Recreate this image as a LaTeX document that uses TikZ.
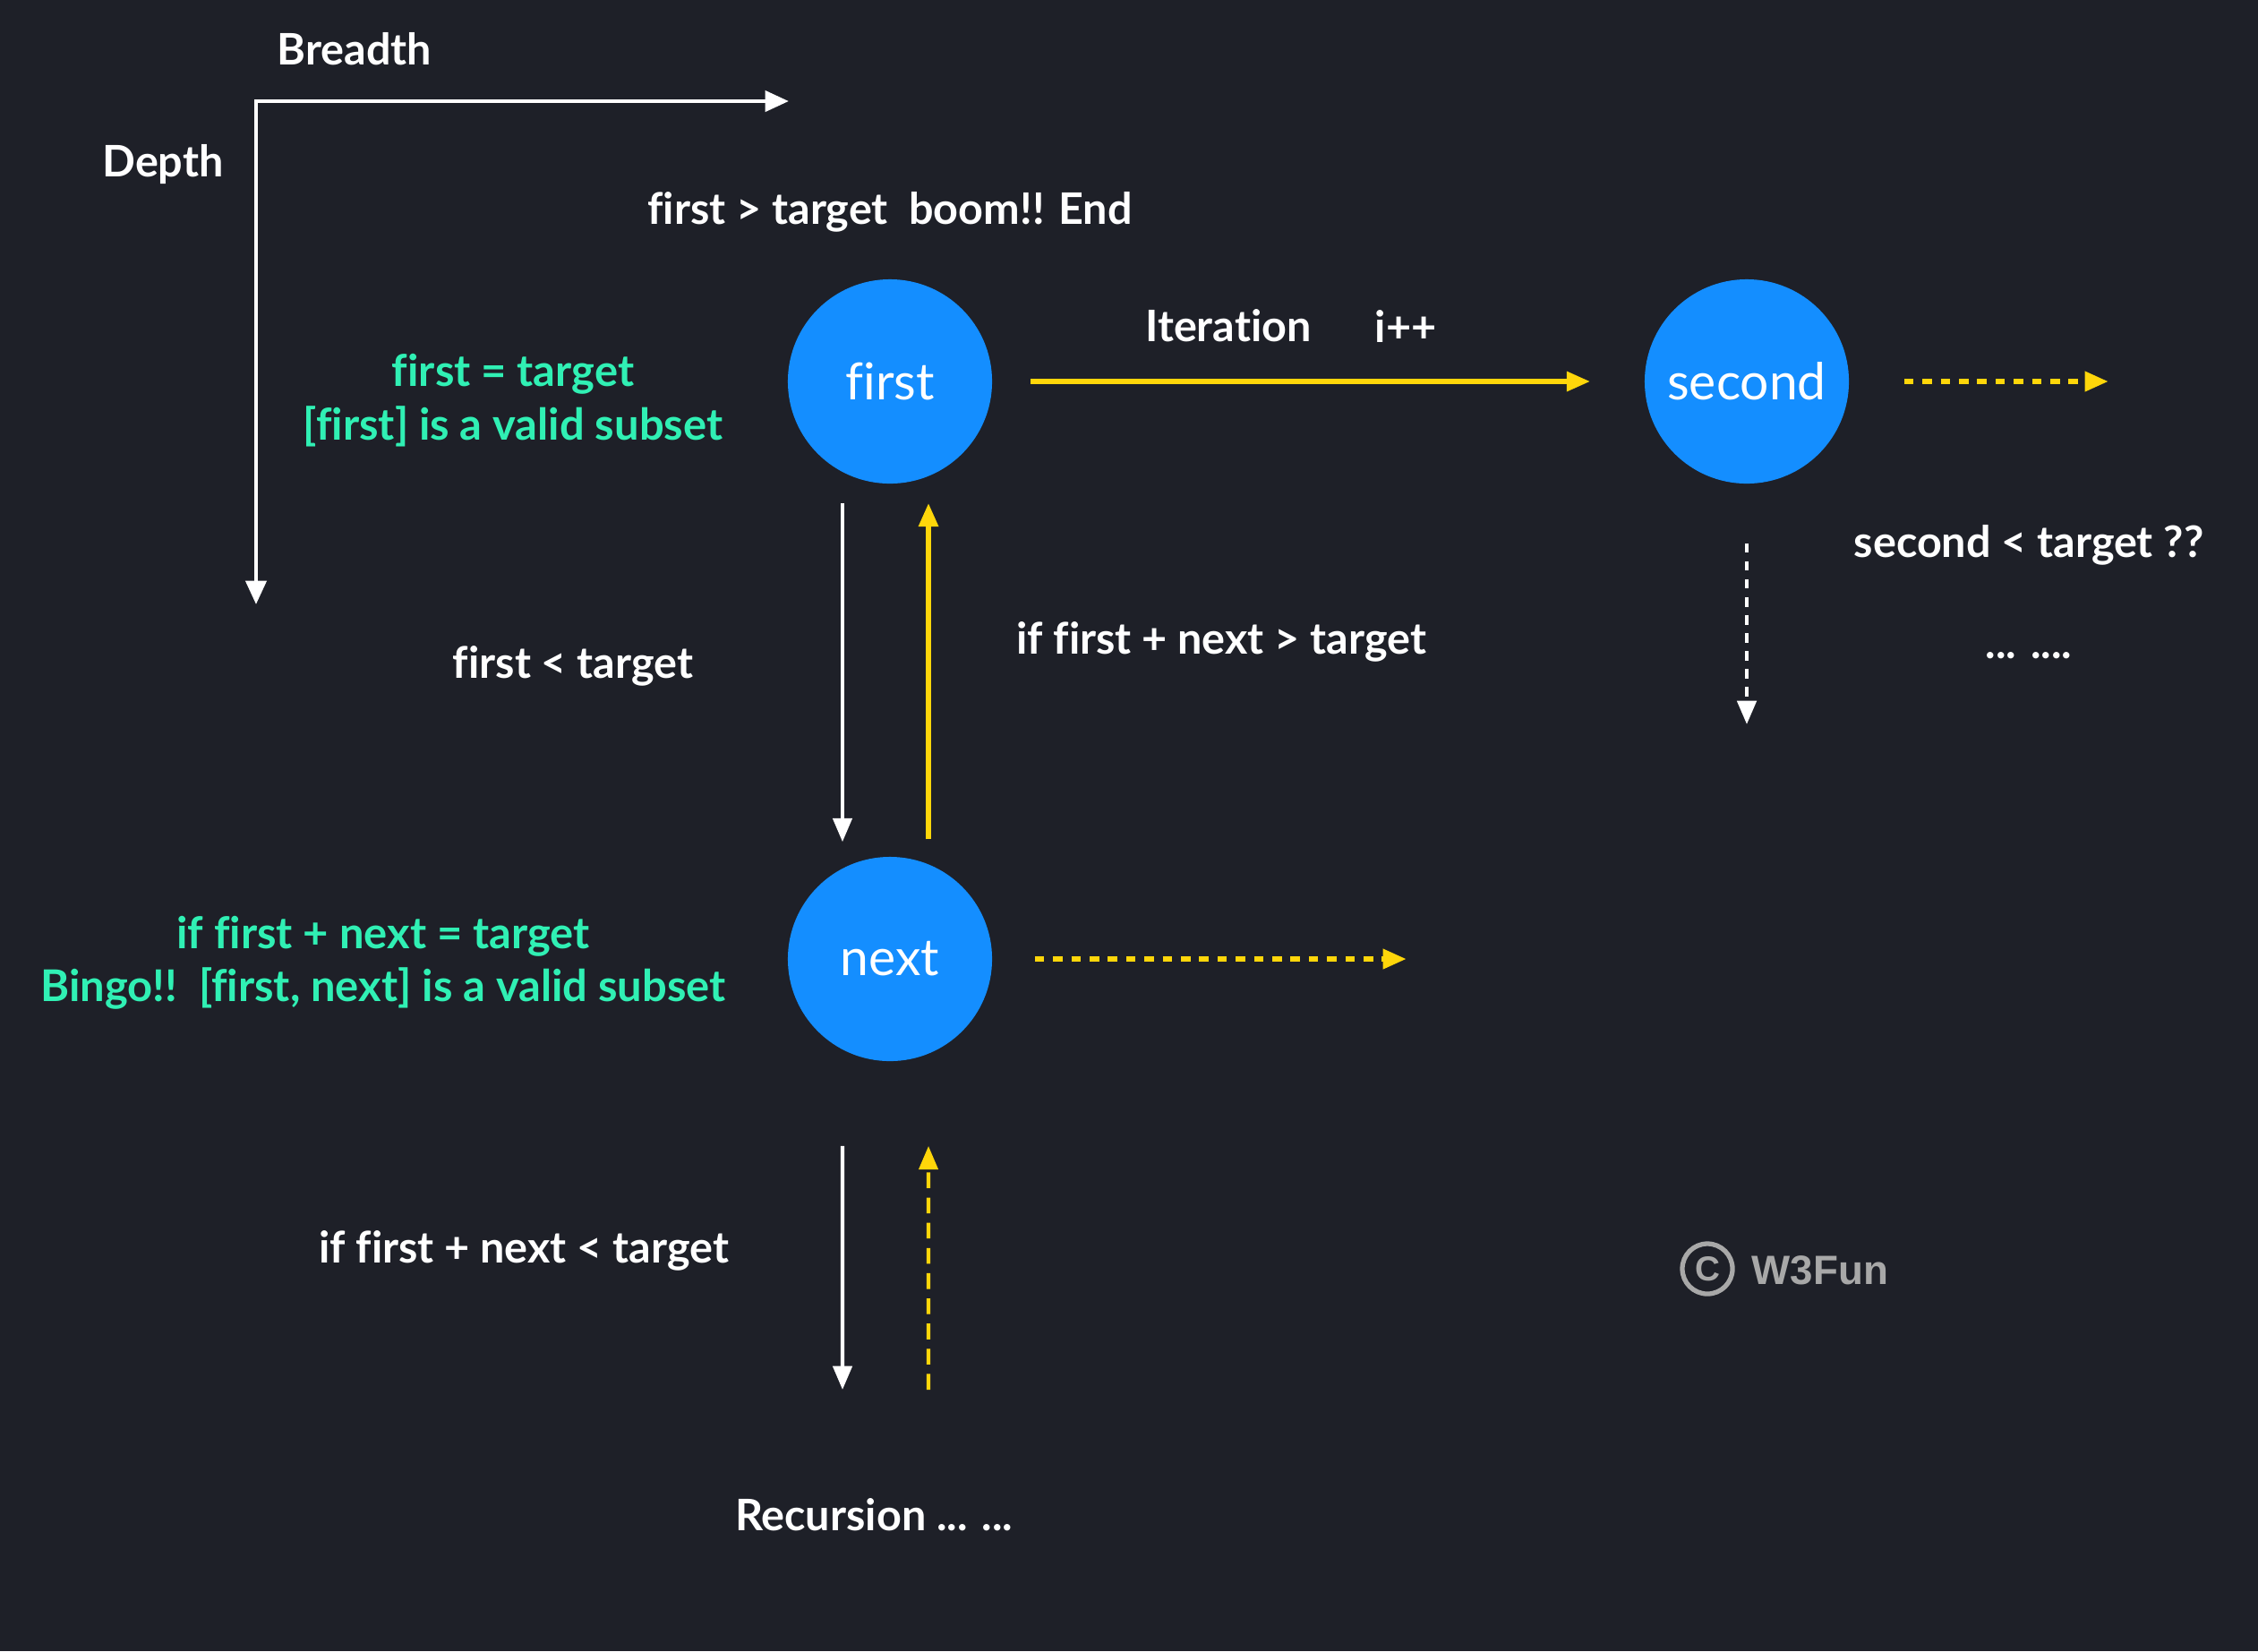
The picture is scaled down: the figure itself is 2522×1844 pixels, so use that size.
\documentclass[tikz,border=0pt]{standalone}
\usepackage{fontspec}
\setmainfont{Lato}[Ligatures={NoCommon}]
\newfontfamily\wfont{Liberation Sans}
\usetikzlibrary{arrows.meta}
\definecolor{bg}{HTML}{1E2028}
\definecolor{cblue}{HTML}{148EFF}
\definecolor{cyel}{HTML}{FFD60A}
\definecolor{cgreen}{HTML}{30F0B4}
\definecolor{cgrey}{HTML}{A8A8A8}
\tikzset{
  ball/.style={circle, fill=cblue, minimum size=2.28cm, inner sep=0pt, text=white, font=\fontsize{16.2}{19}\selectfont},
  lbl/.style={text=white, font=\bfseries\fontsize{13.8}{17}\selectfont, inner sep=0pt},
  glbl/.style={text=cgreen, font=\bfseries\fontsize{13.9}{16.9}\selectfont, inner sep=0pt, align=center},
  tip/.style={-{Triangle[length=7.5pt,width=6pt]}},
  wline/.style={white, line width=1.2pt},
  yline/.style={cyel, line width=1.7pt},
  ydash/.style={cyel, line width=1.8pt, dash pattern=on 3pt off 2.8pt},
  wdash/.style={white, line width=1.3pt, dash pattern=on 3pt off 2.7pt},
  ydash2/.style={cyel, line width=1.2pt, dash pattern=on 5pt off 3pt},
}
\begin{document}
\begin{tikzpicture}[x=0.01cm, y=-0.01cm]
\fill[bg] (0,0) rectangle (2522,1844);
\useasboundingbox (0,0) rectangle (2522,1844);

% axes
\coordinate (origin) at (286,113);
\coordinate (bx) at (881,113);
\coordinate (dy) at (286,675);
\draw[wline, line width=1.3pt, {Triangle[length=7.5pt,width=6.5pt]}-{Triangle[length=7.5pt,width=6.5pt]}, line join=miter] (bx) -- (origin) -- (dy);
\node[lbl] (breadth) at (396,55) {Breadth};
\node[lbl] (depth) at (182,184) {Depth};

% nodes
\node[ball] (first) at (994,426) {first};
\node[ball] (second) at (1951,426) {second};
\node[ball] (next) at (994,1071) {next};

% labels
\node[lbl] (boom) at (994,237) {first > target\ \ boom!! End};
\node[glbl] (eqt) at (573,447) {first = target\\{}[first] is a valid subset};
\node[lbl] (iter) at (1372,364) {Iteration};
\node[lbl] (ipp) at (1570,364) {i++};
\node[lbl] (secq) at (2266,609) {second < target ??};
\node[lbl] (dots) at (2266,732) {... ....};
\node[lbl] (flt) at (640,744) {first < target};
\node[lbl] (fgt) at (1364,717) {if first + next > target};
\node[glbl] (bingo) at (428,1075) {if first + next = target\\Bingo!!\ \ [first, next] is a valid subset};
\node[lbl] (flt2) at (585,1397) {if first + next < target};
\node[lbl] (rec) at (976,1692) {Recursion ... ...};

% watermark
\node[circle, draw=cgrey, line width=1.5pt, minimum size=0.56cm, inner sep=0pt, text=cgrey, font=\wfont\bfseries\fontsize{11}{13}\selectfont] (copy) at (1907,1417) {C};
\node[text=cgrey, font=\wfont\bfseries\fontsize{13}{16}\selectfont, anchor=west, inner sep=0pt] (w3) at (1956,1419) {W3Fun};

% free ends
\coordinate (secR) at (2355,426);
\coordinate (secD) at (1951,809);
\coordinate (nextR) at (1571,1071);
\coordinate (recW) at (941,1552);
\coordinate (recY) at (1037,1552);

% connectors
\draw[yline, tip, shorten <=0.42cm, shorten >=0.6cm] (first) -- (second);
\draw[ydash, tip, shorten <=0.61cm] (second.east) -- (secR);
\draw[wdash, tip, shorten <=0.66cm] (second.south) -- (secD);
\draw[ydash, tip, shorten <=0.47cm] (next.east) -- (nextR);
\draw[wline, tip, shorten <=0.21cm, shorten >=0.16cm] ([xshift=-0.53cm]first.south) -- ([xshift=-0.53cm]next.north);
\draw[yline, tip, shorten <=0.19cm, shorten >=0.21cm] ([xshift=0.43cm]next.north) -- ([xshift=0.43cm]first.south);
\draw[wline, tip, shorten <=0.94cm] ([xshift=-0.53cm]next.south) -- (recW);
\draw[ydash2, tip, shorten >=0.94cm] (recY) -- ([xshift=0.43cm]next.south);
\end{tikzpicture}
\end{document}
